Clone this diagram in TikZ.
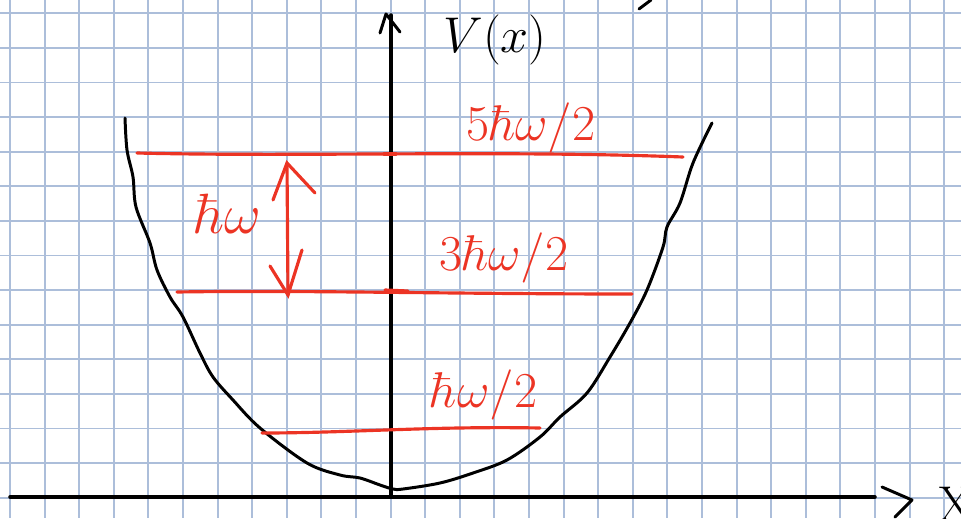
\documentclass[tikz,border=0pt]{standalone}
\usepackage{amsmath}
\usepackage{graphicx}
\usepackage{tikz}
\usetikzlibrary{arrows.meta,positioning,calc}
\definecolor{gridblue}{RGB}{172,190,218}
\definecolor{penred}{RGB}{236,52,36}
\newcommand{\bigpen}[1]{\scalebox{1.15}{\Huge #1}}

\begin{document}
\begin{tikzpicture}[
    x=0.02cm, y=-0.02cm,
    gridline/.style={
        draw=gridblue,
        line width=1.1pt
    },
    axis/.style={
        draw=black,
        line width=2pt,
        line cap=round
    },
    curve/.style={
        draw=black,
        line width=1.7pt,
        line cap=round,
        line join=round
    },
    level/.style={
        draw=penred,
        line width=1.8pt,
        line cap=round
    },
    lbl/.style={
        text=penred,
        inner sep=0pt
    }
]
\useasboundingbox (0,0) rectangle (961,518);

% Grid paper
\foreach \i in {0,...,27}
    \draw[gridline] ({10+34.6*\i},0) -- ({10+34.6*\i},518);
\foreach \j in {0,...,14}
    \draw[gridline] (0,{13.3+34.6*\j}) -- (961,{13.3+34.6*\j});

% Axes
\coordinate (xstart) at (10,497);
\coordinate (xend) at (875,497);
\coordinate (ybot) at (391,497);
\coordinate (ytop) at (391,15);
\draw[axis] (xstart) -- (xend);
\draw[axis] (ybot) -- (ytop);
\draw[curve] (882,487) -- (912,500) -- (895,517);
\draw[curve] (380,33) -- (386,14) -- (400,32);
\draw[curve] (639,9) -- (651,0);

% Axis labels
\node[inner sep=0pt] (vlabel) at (495,40) {\bigpen{$V(x)$}};
\node[inner sep=0pt] (xlabel) at (956,504) {\bigpen{X}};

% Potential
\draw[curve] plot[smooth, tension=0.55] coordinates {
    (125,118) (127,150) (133,177) (136,207) (150,243) (157,270)
    (170,297) (183,317) (200,353) (213,377) (233,400) (260,428)
    (307,463) (340,475) (360,478) (380,485) (393,489) (403,489)
    (440,483) (473,473) (507,460) (540,437) (560,417) (587,393)
    (610,357) (630,323) (647,290) (663,247) (667,227) (680,203)
    (693,163) (712,123)};

% Energy levels
\coordinate (lvfiveL) at (137,153);
\coordinate (lvfiveR) at (683,157);
\coordinate (lvthreeL) at (177,292);
\coordinate (lvthreeR) at (632,294);
\coordinate (lvoneL) at (262,433);
\coordinate (lvoneR) at (540,428);
\draw[level] (lvfiveL) .. controls (300,157) and (500,150) .. (lvfiveR);
\draw[level] (lvthreeL) .. controls (300,290) and (450,294) .. (lvthreeR);
\draw[level] (lvoneL) .. controls (350,433) and (430,426) .. (lvoneR);
\draw[level] (384,154) -- (396,154);
\draw[level] (385,290) -- (408,291);

% Level labels
\node[lbl] (efive) at (531,128) {\bigpen{$5\hbar\omega/2$}};
\node[lbl] (ethree) at (504,258) {\bigpen{$3\hbar\omega/2$}};
\node[lbl] (eone) at (484,395) {\bigpen{$\hbar\omega/2$}};

% Spacing arrow
\coordinate (gaptop) at (287,163);
\coordinate (gapbot) at (288,295);
\draw[level] (gaptop) -- (gapbot);
\draw[level] (273,200) -- (gaptop) -- (315,193);
\draw[level] (270,266) -- (gapbot) -- (302,250);
\node[lbl] (gap) at (228,214) {\scalebox{1.3}{\Huge$\hbar\omega$}};

\end{tikzpicture}
\end{document}
